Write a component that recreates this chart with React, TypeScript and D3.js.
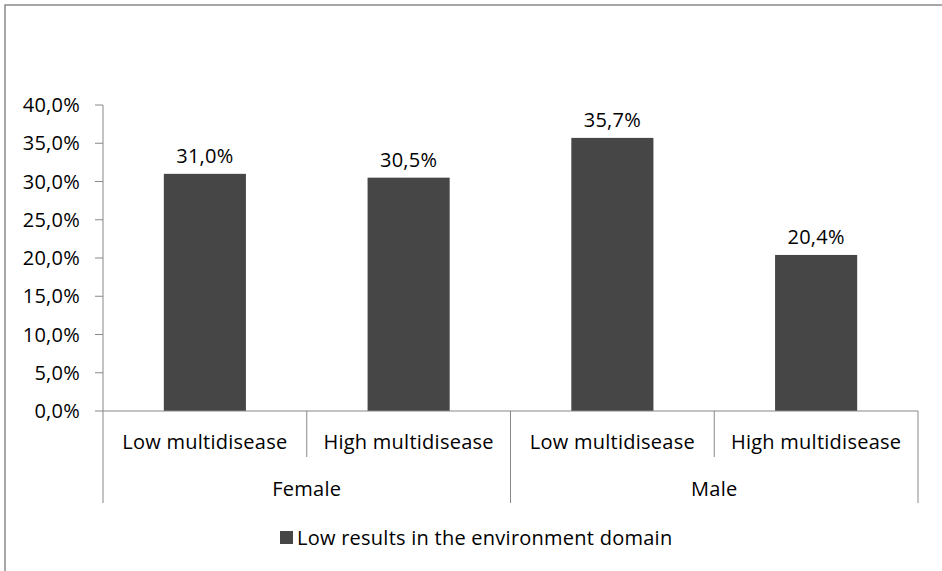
import React from "react";
import * as d3 from "d3";

const subCategories = ["Low multidisease", "High multidisease", "Low multidisease", "High multidisease"];
const groups = ["Female", "Male"];
const groupOf = [0, 0, 1, 1];
const values = [31.0, 30.5, 35.7, 20.4];
const yTicks = [0, 5, 10, 15, 20, 25, 30, 35, 40];
const seriesName = "Low results in the environment domain";

const W = 942, H = 571;
const FONT = "'Open Sans', 'Noto Sans', sans-serif";
const FS = 20;
const LS = 0.25;
const BAR = "#464646";
const AXIS = "#888888";

export default function App() {
  const x0 = 103, x1 = 918, yTop = 105, yZero = 411;
  const y = d3.scaleLinear().domain([0, 40]).range([yZero, yTop]);
  const x = d3.scaleBand<number>().domain(d3.range(values.length)).range([x0, x1]).paddingInner(0).paddingOuter(0);
  const bw = x.bandwidth();
  const barW = bw * 0.403;
  const fmt = (v: number) => v.toFixed(1).replace(".", ",") + "%";
  const groupExtent = groups.map((_, g) => {
    const idx = d3.range(values.length).filter((i) => groupOf[i] === g);
    return [x(idx[0])!, x(idx[idx.length - 1])! + bw];
  });
  return (
    <svg width={W} height={H} style={{ position: "absolute", left: 0, top: 0, background: "#fff" }} fontFamily={FONT} letterSpacing={LS}>
      <rect x={5} y={5} width={W + 10} height={H + 10} fill="#fff" stroke="#8a8a8a" strokeWidth={1.5} />
      {/* y axis */}
      <line x1={x0} x2={x0} y1={yTop} y2={yZero} stroke={AXIS} strokeWidth={1} />
      {yTicks.map((t) => (
        <g key={t}>
          <line x1={x0 - 8} x2={x0} y1={y(t)} y2={y(t)} stroke={AXIS} />
          <text x={80} y={y(t)} dy="0.35em" textAnchor="end" fontSize={FS} fill="#000">{fmt(t)}</text>
        </g>
      ))}
      {/* bars */}
      {values.map((v, i) => {
        const cx = x(i)! + bw / 2;
        return (
          <g key={i}>
            <rect x={cx - barW / 2} y={y(v)} width={barW} height={yZero - y(v)} fill={BAR} />
            <text x={cx} y={y(v) - 11} textAnchor="middle" fontSize={FS} fill="#000">{fmt(v)}</text>
          </g>
        );
      })}
      {/* x axis */}
      <line x1={x0} x2={x1} y1={yZero} y2={yZero} stroke={AXIS} strokeWidth={1.2} />
      {values.map((_, i) => {
        const left = x(i)!;
        const isGroupEdge = i === 0 || groupOf[i] !== groupOf[i - 1];
        return (
          <g key={"c" + i}>
            <line x1={left} x2={left} y1={yZero} y2={isGroupEdge ? 503 : 457} stroke={AXIS} />
            <text x={left + bw / 2} y={442} dy="0.35em" textAnchor="middle" fontSize={FS} fill="#000">{subCategories[i]}</text>
          </g>
        );
      })}
      <line x1={x1} x2={x1} y1={yZero} y2={503} stroke={AXIS} />
      {groups.map((g, gi) => (
        <text key={g} x={(groupExtent[gi][0] + groupExtent[gi][1]) / 2} y={489} dy="0.35em" textAnchor="middle" fontSize={FS} fill="#000">{g}</text>
      ))}
      {/* legend */}
      <rect x={280} y={531} width={13} height={13} fill={BAR} />
      <text x={297} y={537.5} dy="0.35em" fontSize={FS} fill="#000">{seriesName}</text>
    </svg>
  );
}
